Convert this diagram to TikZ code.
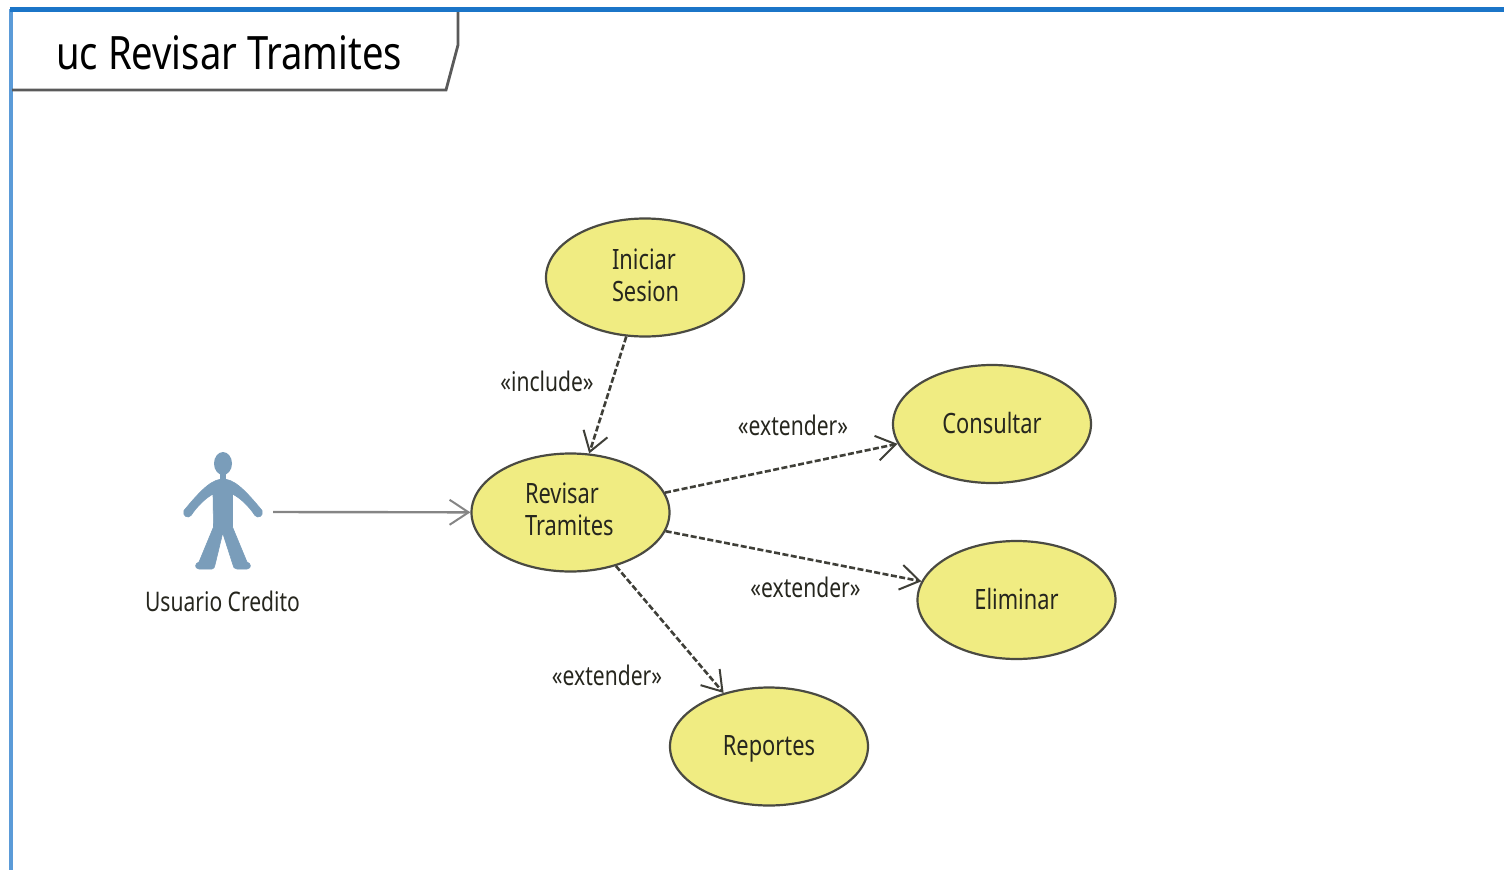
\documentclass[tikz,border=0pt]{standalone}
\usepackage{fontspec}
\setmainfont{Noto Sans}[FakeStretch=0.78]
\newfontfamily\titlefont{Noto Sans}[FakeStretch=0.83]
\usetikzlibrary{shapes.geometric,arrows.meta}
\definecolor{ucfill}{HTML}{F0EC82}
\definecolor{ucline}{HTML}{4A4A42}
\definecolor{actorblue}{HTML}{7A9DBA}
\definecolor{frametop}{HTML}{1B75C8}
\definecolor{frameleft}{HTML}{5B9BD8}
\definecolor{tabline}{HTML}{5A5A5A}
\definecolor{arrowgray}{HTML}{858585}
\definecolor{txt}{HTML}{26261E}
\tikzset{
  usecase/.style={ellipse,draw=ucline,fill=ucfill,line width=2.2pt,minimum width=198pt,minimum height=118pt,inner sep=0pt,text=txt,font=\fontsize{28}{32}\selectfont},
  oneline/.style={usecase,text height=18pt,text depth=0pt},
  twolines/.style={usecase,align=left,text height=20pt},
  stereo/.style={inner sep=0pt,text=txt,font=\fontsize{27}{30}\selectfont},
  dep/.style={draw=ucline!85!black,line width=2.6pt,dash pattern=on 6pt off 2.5pt,-{Straight Barb[length=19pt,width=25pt,line width=2pt]}},
  assoc/.style={draw=arrowgray,line width=2.4pt,-{Straight Barb[length=19pt,width=25pt,line width=2pt]}},
}
\begin{document}
\begin{tikzpicture}[x=1pt,y=-1pt]
\useasboundingbox (0,0) rectangle (1504,870);
% frame
\draw[frameleft,line width=3.2pt] (11,9) -- (11,870);
\draw[frametop,line width=4.4pt] (9.5,9.5) -- (1504,9.5);
\draw[tabline,line width=2.8pt] (12,90) -- (446,90) -- (458,45) -- (458,12);
\node[inner sep=0pt,anchor=base west,text=black,font=\titlefont\fontsize{46}{50}\selectfont] (title) at (56,69) {uc Revisar Tramites};
% actor
\fill[actorblue] (223,463.5) ellipse (9pt and 11.5pt);
\fill[actorblue] (220,472) rectangle (226,482);
\fill[actorblue,draw=actorblue,line width=0.6pt,line join=round]
  (223,479) .. controls (213,479.5) and (204,486) .. (184,510.5)
  .. controls (182,516) and (188,519) .. (191,515.5)
  .. controls (198,505) and (206,498) .. (213,494)
  -- (213.5,527) -- (199,562)
  .. controls (195,563) and (194,568.5) .. (199,569)
  -- (212,569) .. controls (214,569) and (214.5,567) .. (215,565)
  -- (222.7,533) -- (233,565)
  .. controls (233.5,567) and (234,569) .. (237,569)
  -- (247,569) .. controls (252,568.5) and (251,563) .. (247,562)
  -- (232.5,527) -- (232.5,494)
  .. controls (240,498) and (248,505) .. (255,515.5)
  .. controls (258,519) and (264,516) .. (262,510.5)
  .. controls (242,486) and (233,479.5) .. (223,479) -- cycle;
\node[inner sep=0pt,minimum width=100pt,minimum height=118pt] (actor) at (223,512) {};
\node[stereo] (actorlabel) at (222.5,601) {Usuario Credito};
% use cases
\node[twolines,text depth=36pt,text width=66pt] (iniciar) at (645,277.5) {Iniciar\\Sesion};
\node[twolines,text depth=38pt,text width=91pt] (revisar) at (570.5,512.5) {Revisar\\Tramites};
\node[oneline] (consultar) at (992,424) {Consultar};
\node[oneline] (eliminar) at (1016.5,600) {Eliminar};
\node[oneline] (reportes) at (769,746.5) {Reportes};
% connectors
\draw[assoc] (actor.east) -- (revisar);
\draw[dep] (iniciar) -- (revisar);
\draw[dep] (revisar) -- (consultar);
\draw[dep] (revisar) -- (eliminar);
\draw[dep] (revisar) -- (reportes);
% labels
\node[stereo] (l1) at (547,381.5) {«include»};
\node[stereo] (l2) at (793,425.5) {«extender»};
\node[stereo] (l3) at (805.5,587) {«extender»};
\node[stereo] (l4) at (607,675) {«extender»};
\end{tikzpicture}
\end{document}
